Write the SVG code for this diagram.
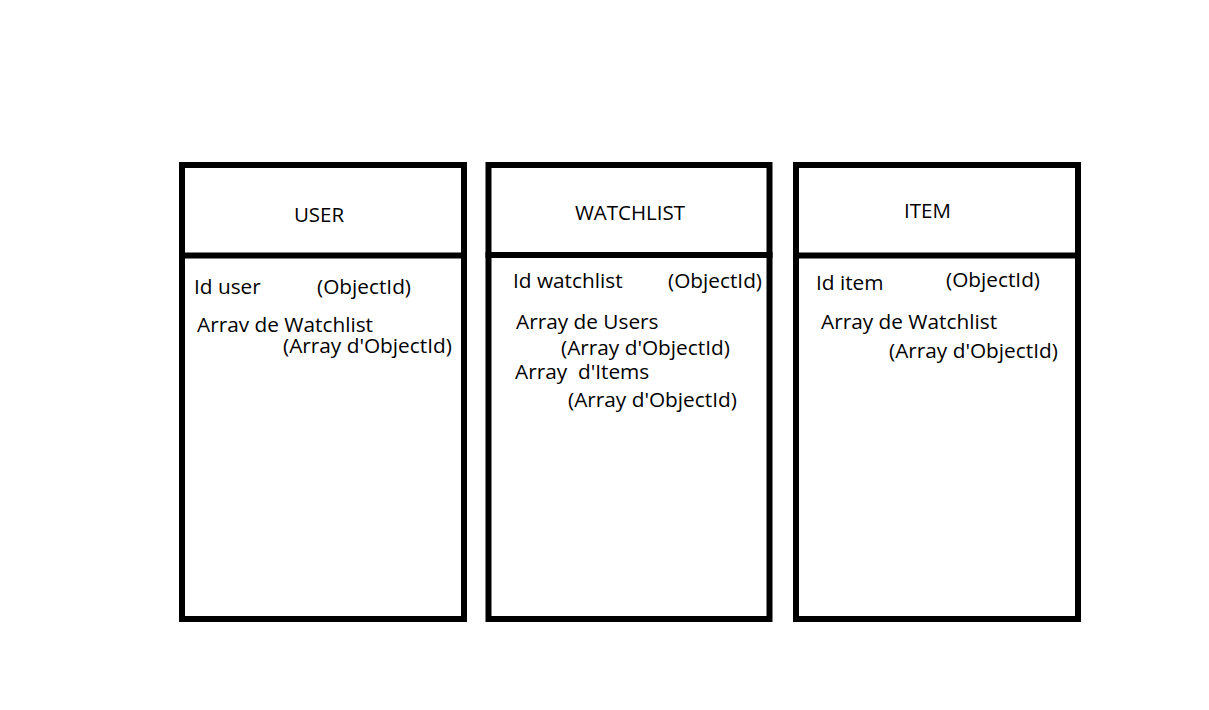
<svg xmlns="http://www.w3.org/2000/svg" width="1209" height="710" viewBox="0 0 1209 710">
<style>
.box{fill:#fff;stroke:#000;stroke-width:6}
.div{stroke:#000;stroke-width:6}
text{font-family:"Open Sans","Noto Sans","Liberation Sans",sans-serif;font-size:20.8px;fill:#000}
.h{text-anchor:middle;font-size:20.5px}
</style>
<rect width="1209" height="710" fill="#fff"/>
<g id="user">
<rect class="box" x="182" y="165" width="282" height="454"/>
<line class="div" x1="179" y1="255.5" x2="467" y2="255.5"/>
<text class="h" x="319" y="222">USER</text>
<text x="194" y="294">Id user</text>
<text x="317" y="294">(ObjectId)</text>
<text x="197" y="332">Arrav de Watchlist</text>
<text x="283" y="353">(Array d'ObjectId)</text>
</g>
<g id="watchlist">
<rect class="box" x="488.5" y="165" width="281" height="454"/>
<line class="div" x1="485.5" y1="255" x2="772.5" y2="255"/>
<text class="h" x="630" y="220">WATCHLIST</text>
<text x="513" y="288">Id watchlist</text>
<text x="668" y="288">(ObjectId)</text>
<text x="516" y="329">Array de Users</text>
<text x="561" y="355">(Array d'ObjectId)</text>
<text x="515" y="379" xml:space="preserve">Array  d'Items</text>
<text x="568" y="407">(Array d'ObjectId)</text>
</g>
<g id="item">
<rect class="box" x="796" y="165" width="282" height="454"/>
<line class="div" x1="793" y1="255.5" x2="1081" y2="255.5"/>
<text class="h" x="927.5" y="218">ITEM</text>
<text x="816" y="290">Id item</text>
<text x="946" y="287">(ObjectId)</text>
<text x="821" y="329">Array de Watchlist</text>
<text x="889" y="358">(Array d'ObjectId)</text>
</g>
<g id="connectors"></g>
</svg>
